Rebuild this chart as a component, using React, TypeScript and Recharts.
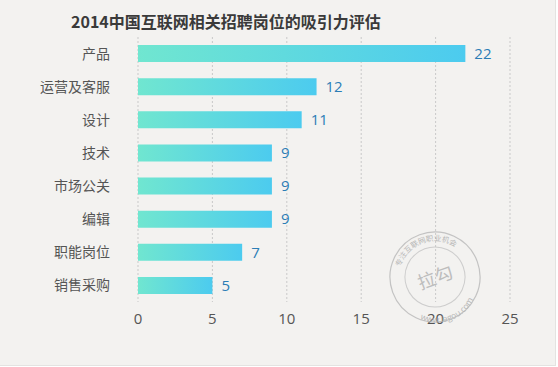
import React from "react";
import { BarChart, Bar, XAxis, YAxis, CartesianGrid, LabelList } from "recharts";

const categories = ["产品", "运营及客服", "设计", "技术", "市场公关", "编辑", "职能岗位", "销售采购"];
const values = [22, 12, 11, 9, 9, 9, 7, 5];
const xTicks = [0, 5, 10, 15, 20, 25];
const title = "2014中国互联网相关招聘岗位的吸引力评估";

const data = categories.map((name, i) => ({ name, value: values[i] }));

const FONT = "'Open Sans', 'Noto Sans CJK SC', sans-serif";

function Stamp() {
  return (
    <svg width={100} height={100} style={{ position: "absolute", left: 385, top: 227, pointerEvents: "none" }}>
      <defs>
        <path id="topArc" d="M 14 50 A 36 36 0 0 1 86 50" />
        <path id="botArc" d="M 10 56 A 40 40 0 0 0 90 56" />
      </defs>
      <g transform="rotate(-20 50 50)" opacity={0.8}>
        <circle cx={50} cy={50} r={45} fill="none" stroke="#b8b8b8" strokeWidth={1.2} />
        <circle cx={50} cy={50} r={30} fill="none" stroke="#c4c4c4" strokeWidth={1} />
        <text fontSize={7.5} fill="#a8a8a8" fontFamily="'Noto Sans CJK SC'">
          <textPath href="#topArc" startOffset="50%" textAnchor="middle">专注互联网职业机会</textPath>
        </text>
        <text fontSize={8.5} fill="#a8a8a8" fontFamily={FONT}>
          <textPath href="#botArc" startOffset="50%" textAnchor="middle">www.lagou.com</textPath>
        </text>
        <text x={50} y={57} fontSize={18} fill="#b0b0b0" textAnchor="middle" fontFamily="'Noto Sans CJK SC'">拉勾</text>
      </g>
    </svg>
  );
}

export default function App() {
  return (
    <div style={{ position: "absolute", left: 0, top: 0, width: 558, height: 367, background: "#ffffff" }}>
      <div style={{ position: "absolute", left: 0, top: 0, width: 556, height: 366, background: "#f3f2f0", borderRight: "1px solid #e4e3e1", borderBottom: "1px solid #e4e3e1", boxSizing: "border-box" }} />
      <BarChart
        width={555}
        height={365}
        data={data}
        layout="vertical"
        margin={{ top: 37, right: 45, left: 0, bottom: 33 }}
        style={{ position: "absolute", left: 0, top: 0 }}
      >
        <defs>
          <linearGradient id="barGrad" x1="0" y1="0" x2="1" y2="0">
            <stop offset="0%" stopColor="#70e6d0" />
            <stop offset="100%" stopColor="#4ccbef" />
          </linearGradient>
        </defs>
        <CartesianGrid horizontal={false} vertical={true} stroke="#c9c9c9" strokeDasharray="2 2" />
        <XAxis
          type="number"
          domain={[0, 25]}
          ticks={xTicks}
          axisLine={false}
          tickLine={false}
          tickSize={0}
          tickMargin={11}
          height={30}
          tick={{ fill: "#555555", fontSize: 15, fontFamily: FONT }}
        />
        <YAxis
          type="category"
          dataKey="name"
          width={138}
          axisLine={false}
          tickLine={false}
          tickSize={0}
          tickMargin={28}
          tick={{ fill: "#555555", fontSize: 14, fontFamily: "'Noto Sans CJK SC', sans-serif" }}
        />
        <Bar dataKey="value" fill="url(#barGrad)" barSize={17} isAnimationActive={false}>
          <LabelList dataKey="value" position="right" offset={9} fill="#2b7db6" fontSize={15} fontFamily={FONT} />
        </Bar>
      </BarChart>
      <div
        style={{
          position: "absolute",
          left: 71,
          top: 9,
          fontSize: 16,
          fontWeight: "bold",
          color: "#3a3a3a",
          fontFamily: "'Noto Sans CJK SC', sans-serif",
          whiteSpace: "nowrap",
          lineHeight: "24px",
        }}
      >
        {title}
      </div>
      <Stamp />
    </div>
  );
}
